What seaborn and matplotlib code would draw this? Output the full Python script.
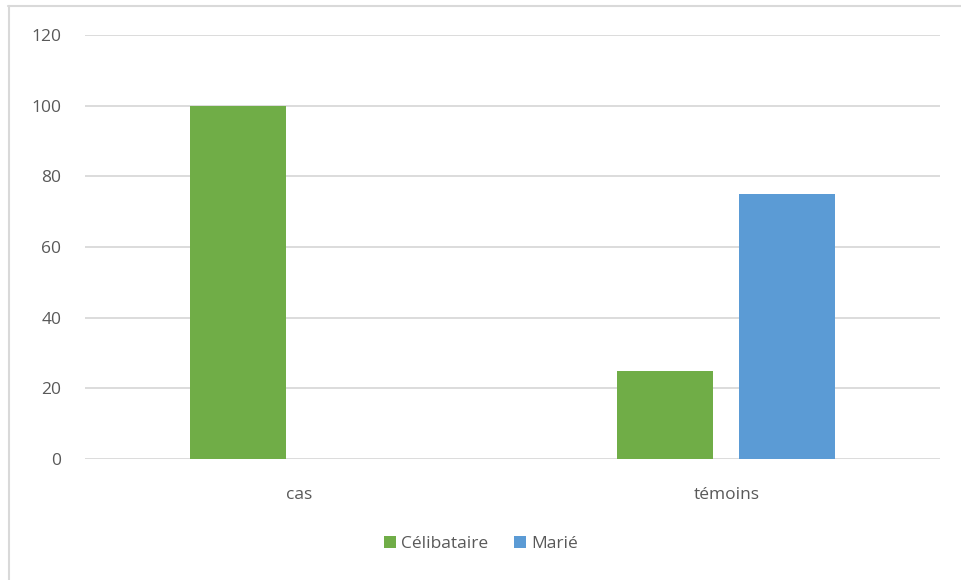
import matplotlib
matplotlib.use("Agg")
import matplotlib.pyplot as plt
from matplotlib.lines import Line2D
import seaborn as sns
import pandas as pd

categories = ["cas", "témoins"]
series_names = ["Célibataire", "Marié"]
celibataire = [100, 25]
marie = [0, 75]
yticks = [0, 20, 40, 60, 80, 100, 120]

df = pd.DataFrame({
    "groupe": categories * 2,
    "statut": [series_names[0]] * 2 + [series_names[1]] * 2,
    "valeur": celibataire + marie,
})

sns.set_theme(style="white")
plt.rcParams["font.family"] = ["Open Sans", "DejaVu Sans"]

W, H = 962, 580
fig = plt.figure(figsize=(W / 100, H / 100), dpi=100)
ax = fig.add_axes([85 / W, 1 - 459 / H, (940 - 85) / W, (459 - 35) / H])

palette = {"Célibataire": "#70AD47", "Marié": "#5B9BD5"}
sns.barplot(data=df, x="groupe", y="valeur", hue="statut", order=categories,
            hue_order=series_names, palette=palette, width=0.571, gap=0.213,
            saturation=1, ax=ax, legend=True, linewidth=0)

ax.set_ylim(0, 120)
ax.set_xlim(-0.5, 1.5)
ax.set_yticks(yticks)
ax.yaxis.grid(True, color="#D9D9D9", linewidth=1.3)
ax.set_axisbelow(True)
for s in ["top", "right", "left", "bottom"]:
    ax.spines[s].set_visible(False)
ax.set_xlabel("")
ax.set_ylabel("")
ax.tick_params(axis="both", length=0, labelsize=12.5, colors="#595959")
ax.tick_params(axis="y", pad=17)
ax.tick_params(axis="x", pad=20)

handles, labels = ax.get_legend_handles_labels()
ax.legend_.remove()
fig.legend(handles, labels, loc="center", bbox_to_anchor=(0.5, 1 - 544 / H),
           ncol=2, frameon=False, fontsize=12.5, labelcolor="#595959",
           handlelength=0.7, handleheight=0.7, handletextpad=0.3, columnspacing=1.5)

border = "#D9D9D9"
fig.add_artist(Line2D([8 / W, 1], [1 - 6 / H, 1 - 6 / H], color=border, linewidth=1.5, transform=fig.transFigure))
fig.add_artist(Line2D([9 / W, 9 / W], [0, 1 - 6 / H], color=border, linewidth=1.5, transform=fig.transFigure))

fig.savefig("out.png", dpi=100, facecolor="white")
